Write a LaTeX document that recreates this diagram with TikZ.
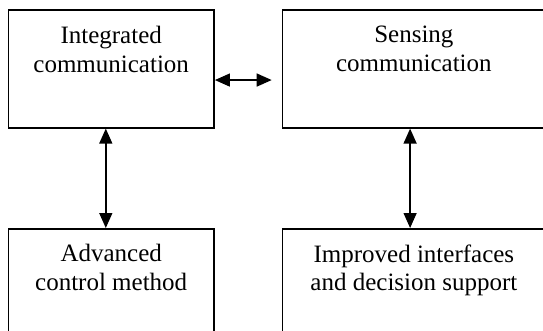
\documentclass[tikz,border=0pt]{standalone}
\usepackage{fontspec}
\setmainfont{Liberation Serif}
\usetikzlibrary{arrows.meta}

\tikzset{
  block/.style={draw=black, line width=1.6pt, minimum height=117.5pt,
    anchor=north west, inner sep=0pt},
  blocktext/.style={anchor=north, align=center, inner sep=0pt,
    font=\fontsize{25}{28.7}\selectfont},
  link/.style={line width=1.4pt, {Triangle[length=15pt,width=13pt]}-{Triangle[length=15pt,width=13pt]}}
}

\begin{document}
\begin{tikzpicture}[x=1pt, y=-1pt]
  \useasboundingbox (0,0) rectangle (543,331);

  % the four blocks
  \node[block, minimum width=205.8pt] (ic) at (7.5,9.5) {};
  \node[block, minimum width=262.8pt] (sc) at (281.7,9.5) {};
  \node[block, minimum width=205.8pt] (acm) at (7.5,228) {};
  \node[block, minimum width=262.8pt] (iids) at (281.7,228) {};

  % their captions
  \node[blocktext] (ict) at ([yshift=-16.4pt]ic.north) {Integrated\\communication};
  \node[blocktext] (sct) at ([yshift=-16.4pt]sc.north) {Sensing\\communication};
  \node[blocktext] (acmt) at ([yshift=-16.4pt]acm.north) {Advanced\\control method};
  \node[blocktext] (iidst) at ([yshift=-16.4pt]iids.north) {Improved interfaces\\and decision support};

  % two-way links
  \draw[link] ([yshift=-11pt]ic.east) -- ([xshift=-10pt,yshift=-11pt]sc.west);
  \draw[link] ([xshift=-5.4pt]ic.south) -- ([xshift=-5.4pt]acm.north);
  \draw[link] ([xshift=-3.8pt]sc.south) -- ([xshift=-3.8pt]iids.north);
\end{tikzpicture}
\end{document}
